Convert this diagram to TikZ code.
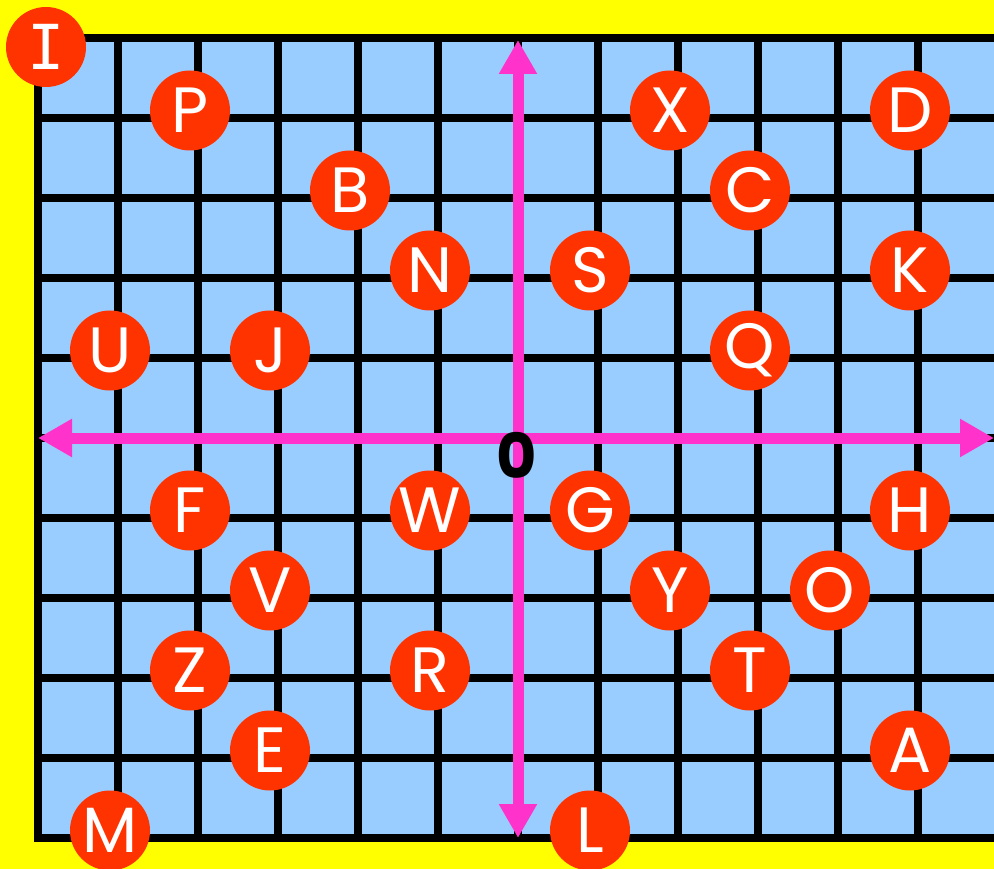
\documentclass[tikz,border=0pt]{standalone}
\usepackage{fontspec}
\setmainfont{Poppins}
\newfontfamily\barfont{DejaVu Sans Mono}
\usetikzlibrary{arrows.meta}
\definecolor{bgyellow}{HTML}{FFFF00}
\definecolor{gridblue}{HTML}{99CCFF}
\definecolor{dotred}{HTML}{FF3300}
\definecolor{axismag}{HTML}{FF33CC}
\begin{document}
\begin{tikzpicture}[x=1pt,y=-1pt,
  letter/.style={circle, fill=dotred, minimum size=80pt, inner sep=0pt, text=white,
    font=\fontsize{64}{64}\selectfont},
  gridline/.style={line width=8pt, black},
  axisline/.style={line width=11pt, axismag,
    {Triangle[width=36pt,length=34pt]}-{Triangle[width=36pt,length=34pt]}},
  zerolabel/.style={inner sep=0pt, text=black, font=\bfseries\fontsize{62}{62}\selectfont}]
\fill[bgyellow] (0,0) rectangle (994,869);
\useasboundingbox (0,0) rectangle (994,869);
\fill[gridblue] (38,38) rectangle (994,838);
\foreach \i in {0,...,11} \draw[gridline] (38+80*\i,34) -- (38+80*\i,842);
\foreach \j in {0,...,10} \draw[gridline] (34,38+80*\j) -- (994,38+80*\j);
\coordinate (ytop) at (518,40);
\coordinate (ybot) at (518,838);
\coordinate (xleft) at (38,438);
\coordinate (xright) at (994,438);
\draw[axisline] (ytop) -- (ybot);
\draw[axisline] (xleft) -- (xright);
\node[zerolabel] (zero) at (517,455) {0};
\node[letter, font=\barfont\fontsize{62}{62}\selectfont] (I) at (46,47) {I};
\foreach \n/\i/\j in {P/2/1, B/4/2, N/5/3, S/7/3, X/8/1, C/9/2, D/11/1, K/11/3,
  Q/9/4, U/1/4, J/3/4, F/2/6, W/5/6, G/7/6, H/11/6, V/3/7, Y/8/7, O/10/7,
  Z/2/8, R/5/8, T/9/8, E/3/9, A/11/9, M/1/10, L/7/10}
  \node[letter] (\n) at (30+80*\i, 30.5+80*\j) {\n};
\end{tikzpicture}
\end{document}
